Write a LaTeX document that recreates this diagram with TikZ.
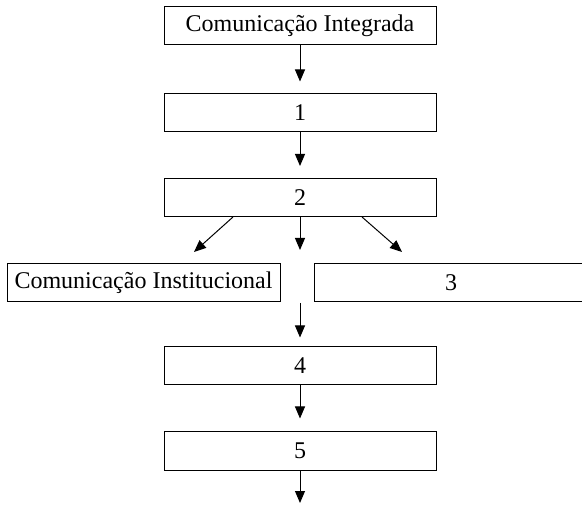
\documentclass[tikz,border=0pt]{standalone}
\usepackage{fontspec}
\setmainfont{Liberation Serif}
\usetikzlibrary{arrows.meta}

\begin{document}
\begin{tikzpicture}[x=0.5pt,y=-0.5pt]
	\tikzstyle{box} = [draw,line width=0.5pt,rectangle,minimum width=136pt,minimum height=19pt,inner sep=0pt,font=\fontsize{12}{14}\selectfont]
	\tikzstyle{arr} = [line width=0.5pt,-{Triangle[width=5pt,length=6pt]}]

	\useasboundingbox (0,0) rectangle (582,506);

	\node[box] at (300,26) (ci) {Comunicação Integrada};
	\node[box] at (300,113) (b1) {1};
	\node[box] at (300,197.5) (b2) {2};
	\node[box,minimum width=136.5pt] at (143.5,283) (inst) {Comunicação Institucional};
	\node[box,minimum width=137pt] at (451,283) (b3) {3};
	\node[box] at (300,366) (b4) {4};
	\node[box] at (300,451) (b5) {5};

	\coordinate (l) at (194,252);
	\coordinate (c) at (300,250);
	\coordinate (r) at (402,252);
	\coordinate (m) at (300,303);
	\coordinate (e) at (300,503);

	\begin{scope}[arr]
		\draw[shorten >=6pt] (ci) -- (b1);
		\draw[shorten >=6pt] (b1) -- (b2);
		\draw ([xshift=-33.5pt]b2.south) -- (l);
		\draw (b2.south) -- (c);
		\draw ([xshift=31pt]b2.south) -- (r);
		\draw[shorten >=4.5pt] (m) -- (b4);
		\draw[shorten >=6.5pt] (b4) -- (b5);
		\draw (b5) -- (e);
	\end{scope}
\end{tikzpicture}
\end{document}
